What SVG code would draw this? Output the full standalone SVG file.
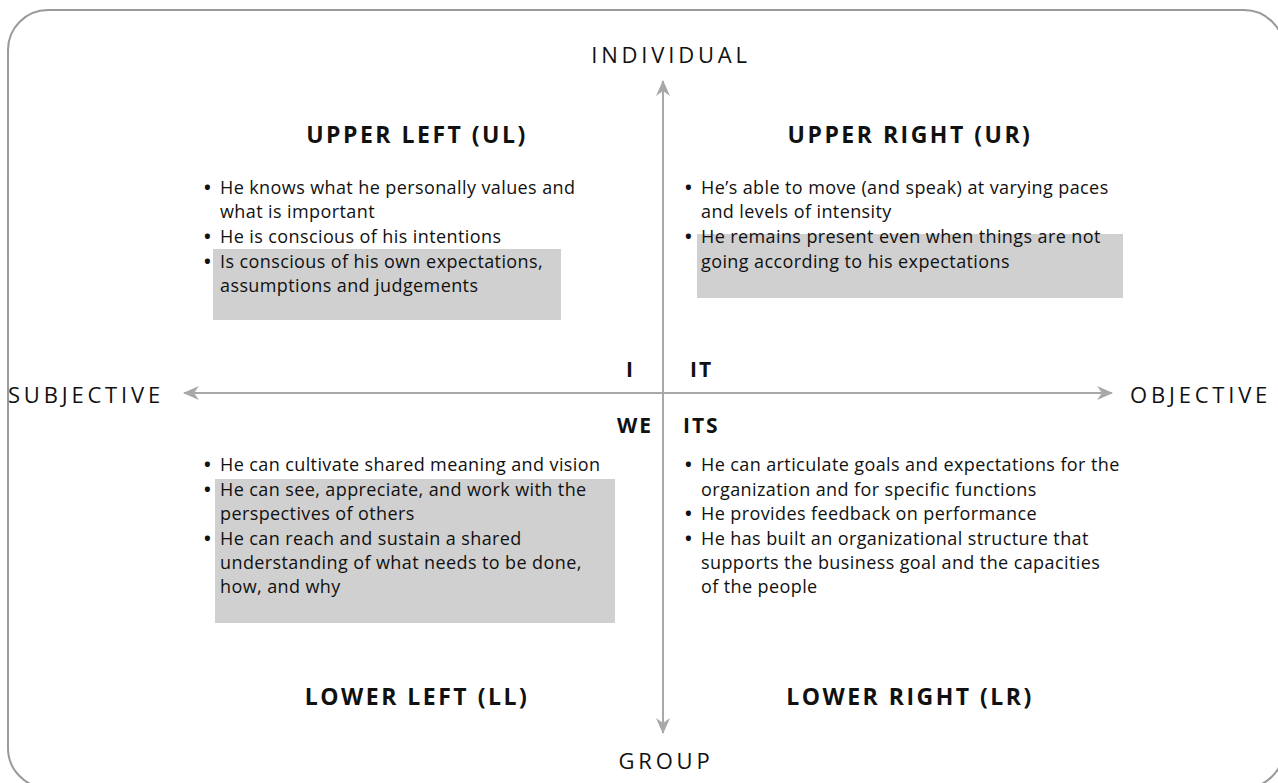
<svg xmlns="http://www.w3.org/2000/svg" width="1278" height="783" viewBox="0 0 1278 783">
<style>
.frame{fill:#fff;stroke:#9a9a9a;stroke-width:2}
.axis{stroke:#a8a8a8;stroke-width:2;fill:none}
.hl{fill:#d0d0d0}
.t{font-family:"Open Sans","DejaVu Sans",sans-serif;font-size:18px;letter-spacing:0.4px;fill:#111}
.b{font-weight:bold;letter-spacing:0}
.h{font-family:"Open Sans","DejaVu Sans",sans-serif;font-size:23px;font-weight:bold;fill:#111;text-anchor:middle;letter-spacing:2.5px}
.ax{font-family:"Open Sans","DejaVu Sans",sans-serif;font-size:22px;fill:#111;letter-spacing:3.8px}
.q{font-family:"Open Sans","DejaVu Sans",sans-serif;font-size:21px;font-weight:bold;fill:#111;letter-spacing:2px}
</style>
<defs>
<marker id="arr" viewBox="0 0 16 16" refX="15" refY="8" markerWidth="16" markerHeight="16" markerUnits="userSpaceOnUse" orient="auto-start-reverse">
<path d="M0,1 L16,8 L0,15 L5,8 z" fill="#a8a8a8"/>
</marker>
</defs>
<rect class="frame" x="8" y="10" width="1276" height="778" rx="40" ry="40"/>

<g id="connectors">
<line class="axis" x1="184" y1="393" x2="1112" y2="393" marker-start="url(#arr)" marker-end="url(#arr)"/>
<line class="axis" x1="663" y1="81" x2="663" y2="733" marker-start="url(#arr)" marker-end="url(#arr)"/>
</g>

<g id="axis-labels">
<text class="ax" x="671" y="63" text-anchor="middle">INDIVIDUAL</text>
<text class="ax" x="666" y="769" text-anchor="middle">GROUP</text>
<text class="ax" x="8" y="403">SUBJECTIVE</text>
<text class="ax" x="1130" y="403">OBJECTIVE</text>
</g>

<g id="quadrant-labels">
<text class="q" x="635" y="377" text-anchor="end">I</text>
<text class="q" x="690" y="377">IT</text>
<text class="q" x="653" y="433" text-anchor="end">WE</text>
<text class="q" x="683" y="433">ITS</text>
</g>

<g id="upper-left">
<rect class="hl" x="213" y="249" width="348" height="71"/>
<text class="h" x="417" y="143">UPPER LEFT (UL)</text>
<text class="t" x="204" y="194"><tspan class="b">•</tspan><tspan x="220">He knows what he personally values and</tspan></text>
<text class="t" x="220" y="218">what is important</text>
<text class="t" x="204" y="243"><tspan class="b">•</tspan><tspan x="220">He is conscious of his intentions</tspan></text>
<text class="t" x="204" y="268"><tspan class="b">•</tspan><tspan x="220">Is conscious of his own expectations,</tspan></text>
<text class="t" x="220" y="292">assumptions and judgements</text>
</g>

<g id="upper-right">
<rect class="hl" x="697" y="234" width="426" height="64"/>
<text class="h" x="910" y="143">UPPER RIGHT (UR)</text>
<text class="t" x="685" y="194"><tspan class="b">•</tspan><tspan x="701">He’s able to move (and speak) at varying paces</tspan></text>
<text class="t" x="701" y="218">and levels of intensity</text>
<text class="t" x="685" y="243"><tspan class="b">•</tspan><tspan x="701">He remains present even when things are not</tspan></text>
<text class="t" x="701" y="268">going according to his expectations</text>
</g>

<g id="lower-left">
<rect class="hl" x="215" y="479" width="400" height="144"/>
<text class="t" x="204" y="471"><tspan class="b">•</tspan><tspan x="220">He can cultivate shared meaning and vision</tspan></text>
<text class="t" x="204" y="496"><tspan class="b">•</tspan><tspan x="220">He can see, appreciate, and work with the</tspan></text>
<text class="t" x="220" y="520">perspectives of others</text>
<text class="t" x="204" y="545"><tspan class="b">•</tspan><tspan x="220">He can reach and sustain a shared</tspan></text>
<text class="t" x="220" y="569">understanding of what needs to be done,</text>
<text class="t" x="220" y="593">how, and why</text>
<text class="h" x="417" y="705">LOWER LEFT (LL)</text>
</g>

<g id="lower-right">
<text class="t" x="685" y="471"><tspan class="b">•</tspan><tspan x="701">He can articulate goals and expectations for the</tspan></text>
<text class="t" x="701" y="496">organization and for specific functions</text>
<text class="t" x="685" y="520"><tspan class="b">•</tspan><tspan x="701">He provides feedback on performance</tspan></text>
<text class="t" x="685" y="545"><tspan class="b">•</tspan><tspan x="701">He has built an organizational structure that</tspan></text>
<text class="t" x="701" y="569">supports the business goal and the capacities</text>
<text class="t" x="701" y="593">of the people</text>
<text class="h" x="910" y="705">LOWER RIGHT (LR)</text>
</g>
</svg>
